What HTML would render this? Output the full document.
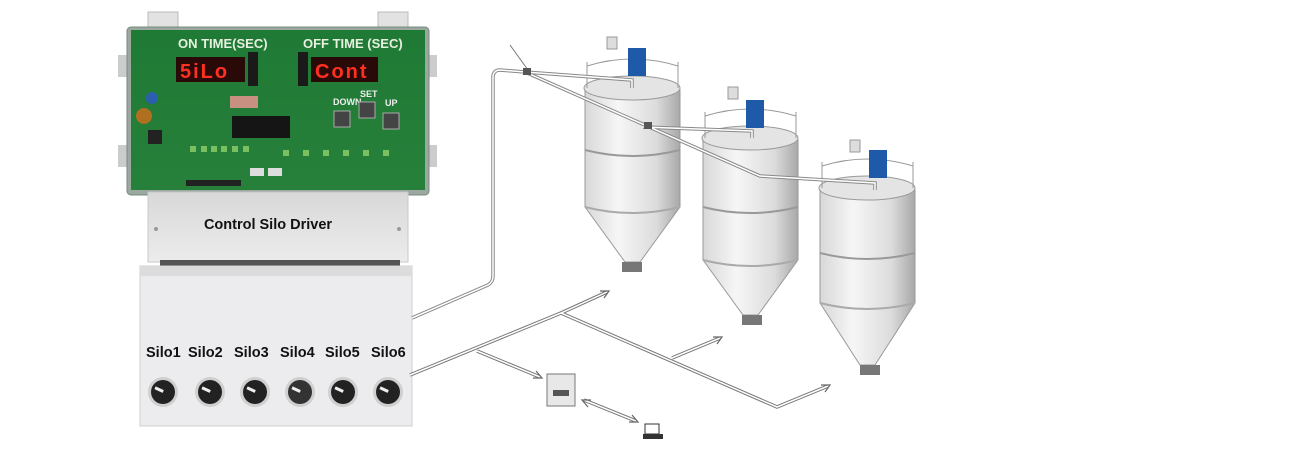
<!DOCTYPE html>
<html><head><meta charset="utf-8"><style>
html,body{margin:0;padding:0;background:#fff;width:1310px;height:450px;overflow:hidden}
svg{display:block}
text{font-family:"Liberation Sans",Arial,sans-serif}
</style></head><body>
<svg width="1310" height="450" viewBox="0 0 1310 450" xmlns="http://www.w3.org/2000/svg">
<defs>
<linearGradient id="silo" x1="0" x2="1" y1="0" y2="0">
<stop offset="0" stop-color="#d8d8d8"/><stop offset="0.35" stop-color="#f6f6f6"/><stop offset="0.75" stop-color="#dcdcdc"/><stop offset="1" stop-color="#a8a8a8"/></linearGradient>
<linearGradient id="pcb" x1="0" x2="0" y1="0" y2="1"><stop offset="0" stop-color="#1f7a35"/><stop offset="1" stop-color="#27803a"/></linearGradient>
<linearGradient id="gbox" x1="0" x2="0" y1="0" y2="1"><stop offset="0" stop-color="#d8d8d8"/><stop offset="1" stop-color="#ececec"/></linearGradient>
</defs>

<rect x="148" y="12" width="30" height="20" fill="#e2e2e2" stroke="#bbb"/>
<rect x="378" y="12" width="30" height="20" fill="#e2e2e2" stroke="#bbb"/>
<rect x="118" y="55" width="14" height="22" fill="#ccc"/>
<rect x="118" y="145" width="14" height="22" fill="#ccc"/>
<rect x="423" y="55" width="14" height="22" fill="#ccc"/>
<rect x="423" y="145" width="14" height="22" fill="#ccc"/>
<rect x="127" y="27" width="302" height="168" rx="4" fill="#9aa8a0" stroke="#7a8a80"/>
<rect x="131" y="30" width="294" height="160" fill="url(#pcb)"/>
<text x="178" y="48" font-size="13" font-weight="bold" fill="#e8f0e0" font-family="Liberation Serif,serif">ON TIME(SEC)</text>
<text x="303" y="48" font-size="13" font-weight="bold" fill="#e8f0e0" font-family="Liberation Serif,serif">OFF TIME (SEC)</text>
<rect x="176" y="57" width="69" height="25" fill="#2a0a08"/>
<text x="180" y="78" font-size="20" font-weight="bold" fill="#ff3020" font-family="Liberation Mono,monospace" letter-spacing="2">5iLo</text>
<rect x="311" y="57" width="67" height="25" fill="#2a0a08"/>
<text x="315" y="78" font-size="20" font-weight="bold" fill="#ff3020" font-family="Liberation Mono,monospace" letter-spacing="2">Cont</text>
<rect x="248" y="52" width="10" height="34" fill="#1a1a1a"/>
<rect x="298" y="52" width="10" height="34" fill="#1a1a1a"/>
<rect x="232" y="116" width="58" height="22" fill="#151515"/>
<rect x="230" y="96" width="28" height="12" fill="#c89080"/>
<circle cx="152" cy="98" r="6" fill="#2a5fb0"/>
<circle cx="144" cy="116" r="8" fill="#b07020"/>
<rect x="148" y="130" width="14" height="14" fill="#222"/>
<text x="333" y="105" font-size="9" font-weight="bold" fill="#eee">DOWN</text>
<text x="360" y="97" font-size="9" font-weight="bold" fill="#eee">SET</text>
<text x="385" y="106" font-size="9" font-weight="bold" fill="#eee">UP</text>
<rect x="334" y="111" width="16" height="16" fill="#444" stroke="#aaa"/>
<rect x="359" y="102" width="16" height="16" fill="#444" stroke="#aaa"/>
<rect x="383" y="113" width="16" height="16" fill="#444" stroke="#aaa"/>
<g fill="#7ac060"><rect x="190" y="146" width="6" height="6"/><rect x="201" y="146" width="6" height="6"/><rect x="211" y="146" width="6" height="6"/><rect x="221" y="146" width="6" height="6"/><rect x="232" y="146" width="6" height="6"/><rect x="243" y="146" width="6" height="6"/>
<rect x="283" y="150" width="6" height="6"/><rect x="303" y="150" width="6" height="6"/><rect x="323" y="150" width="6" height="6"/><rect x="343" y="150" width="6" height="6"/><rect x="363" y="150" width="6" height="6"/><rect x="383" y="150" width="6" height="6"/></g>
<rect x="186" y="180" width="55" height="6" fill="#222"/>
<rect x="250" y="168" width="14" height="8" fill="#ddd"/><rect x="268" y="168" width="14" height="8" fill="#ddd"/>
<rect x="148" y="192" width="260" height="70" fill="url(#gbox)" stroke="#c8c8c8"/>
<text x="268" y="229" font-size="14.5" font-weight="bold" fill="#111" text-anchor="middle">Control Silo Driver</text>
<circle cx="156" cy="229" r="2" fill="#999"/><circle cx="399" cy="229" r="2" fill="#999"/>
<rect x="160" y="260" width="240" height="8" fill="#555"/>
<rect x="140" y="266" width="272" height="160" fill="#ececee" stroke="#d0d0d0"/>
<rect x="140" y="266" width="272" height="10" fill="#dcdcdc"/>
<g font-size="14.5" font-weight="bold" fill="#111">
<text x="146" y="357">Silo1</text><text x="188" y="357">Silo2</text><text x="234" y="357">Silo3</text><text x="280" y="357">Silo4</text><text x="325" y="357">Silo5</text><text x="371" y="357">Silo6</text></g>
<g>
<g transform="translate(163,392)"><circle r="15" fill="#cfcfcf"/><circle r="12" fill="#222"/><rect x="-9" y="-2" width="9" height="3" fill="#eee" transform="rotate(25)"/></g>
<g transform="translate(210,392)"><circle r="15" fill="#cfcfcf"/><circle r="12" fill="#222"/><rect x="-9" y="-2" width="9" height="3" fill="#eee" transform="rotate(25)"/></g>
<g transform="translate(255,392)"><circle r="15" fill="#cfcfcf"/><circle r="12" fill="#222"/><rect x="-9" y="-2" width="9" height="3" fill="#eee" transform="rotate(25)"/></g>
<g transform="translate(300,392)"><circle r="15" fill="#cfcfcf"/><circle r="12" fill="#333"/><rect x="-9" y="-2" width="9" height="3" fill="#eee" transform="rotate(25)"/></g>
<g transform="translate(343,392)"><circle r="15" fill="#cfcfcf"/><circle r="12" fill="#222"/><rect x="-9" y="-2" width="9" height="3" fill="#eee" transform="rotate(25)"/></g>
<g transform="translate(388,392)"><circle r="15" fill="#cfcfcf"/><circle r="12" fill="#222"/><rect x="-9" y="-2" width="9" height="3" fill="#eee" transform="rotate(25)"/></g>
</g>

<!-- silos -->
<g>
<path d="M585,90 L680,90 L680,207 L640,262 L625,262 L585,207 Z" fill="url(#silo)" stroke="#999"/>
<ellipse cx="632" cy="88" rx="48" ry="12" fill="#e4e4e4" stroke="#999"/>
<path d="M585,150 Q632,162 680,150" fill="none" stroke="#999" stroke-width="2"/>
<path d="M585,207 Q632,219 680,207" fill="none" stroke="#aaa" stroke-width="2"/>
<path d="M587,88 L587,62 M678,88 L678,62 M587,66 Q632,52 678,66" fill="none" stroke="#999"/>
<rect x="628" y="48" width="18" height="28" fill="#1f5aa8"/>
<rect x="622" y="262" width="20" height="10" fill="#777"/>
</g>
<g>
<path d="M703,140 L798,140 L798,260 L758,315 L743,315 L703,260 Z" fill="url(#silo)" stroke="#999"/>
<ellipse cx="750" cy="138" rx="48" ry="12" fill="#e4e4e4" stroke="#999"/>
<path d="M703,207 Q750,219 798,207" fill="none" stroke="#999" stroke-width="2"/>
<path d="M703,260 Q750,272 798,260" fill="none" stroke="#aaa" stroke-width="2"/>
<path d="M705,138 L705,112 M796,138 L796,112 M705,116 Q750,102 796,116" fill="none" stroke="#999"/>
<rect x="746" y="100" width="18" height="28" fill="#1f5aa8"/>
<rect x="742" y="315" width="20" height="10" fill="#777"/>
</g>
<g>
<path d="M820,190 L915,190 L915,303 L875,365 L860,365 L820,303 Z" fill="url(#silo)" stroke="#999"/>
<ellipse cx="867" cy="188" rx="48" ry="12" fill="#e4e4e4" stroke="#999"/>
<path d="M820,253 Q867,265 915,253" fill="none" stroke="#999" stroke-width="2"/>
<path d="M820,303 Q867,315 915,303" fill="none" stroke="#aaa" stroke-width="2"/>
<path d="M822,188 L822,162 M913,188 L913,162 M822,166 Q867,152 913,166" fill="none" stroke="#999"/>
<rect x="869" y="150" width="18" height="28" fill="#1f5aa8"/>
<rect x="860" y="365" width="20" height="10" fill="#777"/>
</g>
<rect x="607" y="37" width="10" height="12" fill="#ddd" stroke="#999"/>
<rect x="728" y="87" width="10" height="12" fill="#ddd" stroke="#999"/>
<rect x="850" y="140" width="10" height="12" fill="#ddd" stroke="#999"/>

<!-- pipes (over silos) -->
<g fill="none" stroke="#888" stroke-width="3.5"><path d="M412,318 L488,285 Q493,282 493,276 L493,76 Q494,70 500,70 L525,72 L632,80 L632,88"/>
<path d="M525,72 L760,176 L875,183 L875,190"/><path d="M643,127 L752,131 L752,138"/></g>
<g fill="none" stroke="#fff" stroke-width="1.5"><path d="M412,318 L488,285 Q493,282 493,276 L493,76 Q494,70 500,70 L525,72 L632,80 L632,88"/>
<path d="M525,72 L760,176 L875,183 L875,190"/><path d="M643,127 L752,131 L752,138"/></g>
<line x1="510" y1="45" x2="528" y2="70" stroke="#777"/>
<rect x="523" y="68" width="8" height="7" fill="#555"/><rect x="644" y="122" width="8" height="7" fill="#555"/>

<!-- bottom network -->
<g fill="none" stroke="#777" stroke-width="3.5">
<path d="M410,375 L561,313 L607,292"/><path d="M561,313 L777,407 L828,386"/>
<path d="M672,358 L720,338"/><path d="M477,351 L540,377"/><path d="M584,400 L636,421"/></g>
<g fill="none" stroke="#fff" stroke-width="1.5">
<path d="M410,375 L561,313 L607,292"/><path d="M561,313 L777,407 L828,386"/>
<path d="M672,358 L720,338"/><path d="M477,351 L540,377"/><path d="M584,400 L636,421"/></g>
<g fill="none" stroke="#666" stroke-width="1.2">
<path d="M600,291 L609,291 L604,298"/><path d="M821,385 L830,385 L825,392"/><path d="M713,337 L722,337 L717,344"/>
<path d="M533,378 L542,378 L536,371"/><path d="M629,422 L638,422 L632,415"/><path d="M591,400 L582,400 L588,407"/></g>
<rect x="547" y="374" width="28" height="32" fill="#e8e8e8" stroke="#777"/>
<rect x="553" y="390" width="16" height="6" fill="#555"/>
<rect x="645" y="424" width="14" height="10" fill="#fff" stroke="#333"/>
<rect x="643" y="434" width="20" height="5" fill="#333"/>
</svg>
</body></html>
